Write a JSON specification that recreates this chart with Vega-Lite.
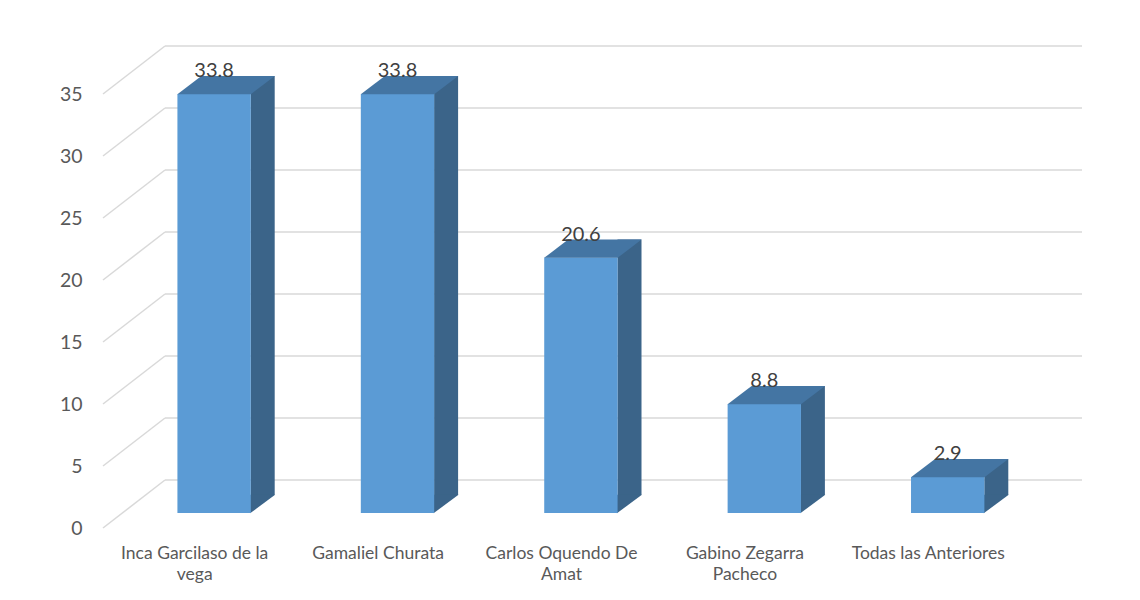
{
  "$schema": "https://vega.github.io/schema/vega-lite/v6.json",
  "width": 917,
  "height": 434,
  "autosize": {"type": "none"},
  "padding": {"left": 103, "top": 94, "right": 120, "bottom": 72},
  "background": "white",
  "config": {"view": {"stroke": null}, "font": "Lato"},
  "datasets": {
    "bars": [
      {"opcion": "Inca Garcilaso de la vega", "porcentaje": 33.8},
      {"opcion": "Gamaliel Churata", "porcentaje": 33.8},
      {"opcion": "Carlos Oquendo De Amat", "porcentaje": 20.6},
      {"opcion": "Gabino Zegarra Pacheco", "porcentaje": 8.8},
      {"opcion": "Todas las Anteriores", "porcentaje": 2.9}
    ],
    "ticks": [{"v": 0}, {"v": 5}, {"v": 10}, {"v": 15}, {"v": 20}, {"v": 25}, {"v": 30}, {"v": 35}]
  },
  "encoding": {
    "x": {
      "field": "opcion",
      "type": "nominal",
      "sort": null,
      "scale": {"type": "band", "paddingInner": 0, "paddingOuter": 0, "domain": ["Inca Garcilaso de la vega", "Gamaliel Churata", "Carlos Oquendo De Amat", "Gabino Zegarra Pacheco", "Todas las Anteriores"]},
      "axis": {
        "title": null,
        "orient": "bottom",
        "domain": false,
        "ticks": false,
        "grid": false,
        "labelAngle": 0,
        "labelFont": "Lato",
        "labelFontSize": 17.5,
        "labelColor": "#595959",
        "labelPadding": 16,
        "labelLineHeight": 21,
        "labelBaseline": "top",
        "labelExpr": "datum.value == 'Inca Garcilaso de la vega' ? ['Inca Garcilaso de la', 'vega'] : datum.value == 'Carlos Oquendo De Amat' ? ['Carlos Oquendo De', 'Amat'] : datum.value == 'Gabino Zegarra Pacheco' ? ['Gabino Zegarra', 'Pacheco'] : datum.value"
      }
    }
  },
  "layer": [
    {
      "data": {"name": "ticks"},
      "mark": {"type": "rule", "color": "#D9D9D9", "strokeWidth": 1.5, "xOffset": 62, "x2Offset": 62, "yOffset": -48},
      "encoding": {
        "x": {"datum": "Inca Garcilaso de la vega", "bandPosition": 0},
        "x2": {"datum": "Todas las Anteriores", "bandPosition": 1},
        "y": {
          "field": "v",
          "type": "quantitative",
          "scale": {"domain": [0, 35], "nice": false, "zero": true},
          "axis": {
            "title": null,
            "domain": false,
            "ticks": false,
            "grid": false,
            "values": [0, 5, 10, 15, 20, 25, 30, 35],
            "labelFont": "Lato",
            "labelFontSize": 19.5,
            "labelColor": "#595959",
            "labelPadding": 21
          }
        }
      }
    },
    {
      "data": {"name": "ticks"},
      "mark": {"type": "rule", "color": "#D9D9D9", "strokeWidth": 1.5, "x2Offset": 62, "y2Offset": -48},
      "encoding": {
        "x": {"datum": "Inca Garcilaso de la vega", "bandPosition": 0},
        "x2": {"datum": "Inca Garcilaso de la vega", "bandPosition": 0},
        "y": {"field": "v", "type": "quantitative"},
        "y2": {"field": "v"}
      }
    },
    {
      "data": {"name": "bars"},
      "mark": {"type": "bar", "color": "#3B6489", "width": 24, "xOffset": 68, "yOffset": -33, "y2Offset": -33},
      "encoding": {
        "y": {"field": "porcentaje", "type": "quantitative"},
        "y2": {"datum": 0}
      }
    },
    {
      "data": {"name": "bars"},
      "mark": {"type": "point", "shape": "M36,-18.3L36,0.3L61,-18.3Z", "size": 4, "filled": true, "opacity": 1, "color": "#3B6489", "strokeWidth": 0, "xOffset": 19.4, "yOffset": -15},
      "encoding": {
        "y": {"datum": 0}
      }
    },
    {
      "data": {"name": "bars"},
      "mark": {"type": "bar", "color": "#5B9BD5", "width": {"band": 0.4}, "xOffset": 19.4, "yOffset": -15, "y2Offset": -15},
      "encoding": {
        "y": {"field": "porcentaje", "type": "quantitative"},
        "y2": {"datum": 0}
      }
    },
    {
      "data": {"name": "bars"},
      "mark": {"type": "point", "shape": "M-36.7,0.3L36.7,0.3L60.7,-18L-12.7,-18Z", "size": 4, "filled": true, "opacity": 1, "color": "#4475A3", "strokeWidth": 0, "xOffset": 19.4, "yOffset": -15},
      "encoding": {
        "y": {"field": "porcentaje", "type": "quantitative"}
      }
    },
    {
      "data": {"name": "bars"},
      "mark": {"type": "text", "font": "Lato", "fontSize": 20, "color": "#404040", "baseline": "alphabetic", "align": "center", "xOffset": 19.4, "yOffset": -32},
      "encoding": {
        "y": {"field": "porcentaje", "type": "quantitative"},
        "text": {"field": "porcentaje", "type": "quantitative", "format": ".1f"}
      }
    }
  ]
}
